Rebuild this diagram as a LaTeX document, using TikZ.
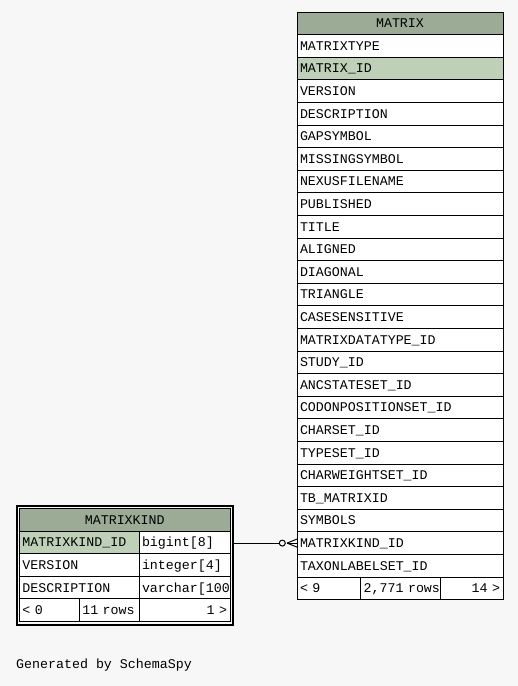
\documentclass[tikz,border=0pt]{standalone}
\usepackage{fontspec}
\setmonofont{Liberation Mono}
\usetikzlibrary{calc, positioning}
\definecolor{headgreen}{HTML}{9BAB96}
\definecolor{keygreen}{HTML}{BED1B8}
\definecolor{pagebg}{HTML}{F7F7F7}

\tikzset{
  dbfont/.style={font=\ttfamily\fontsize{13.3}{16}\selectfont},
  tcell/.style={draw=black, fill=white, line width=1pt, anchor=north west,
    inner xsep=3pt, inner ysep=0pt, outer sep=0pt, minimum height=22.6pt,
    text height=11.8pt, text depth=3pt, text width=#1, align=left, dbfont},
  thead/.style={tcell=#1, fill=headgreen, align=center},
  tfoot/.style={tcell=#1, align=right}
}

\begin{document}
\begin{tikzpicture}[x=1pt, y=-1pt]
\fill[pagebg] (0,0) rectangle (518,686);
\useasboundingbox (0,0) rectangle (518,686);

% MATRIX table
\node[thead=200pt] (mhead) at (297,12) {MATRIX};
\foreach \name [count=\i] in {MATRIXTYPE, MATRIX\_ID, VERSION, DESCRIPTION,
    GAPSYMBOL, MISSINGSYMBOL, NEXUSFILENAME, PUBLISHED, TITLE, ALIGNED,
    DIAGONAL, TRIANGLE, CASESENSITIVE, MATRIXDATATYPE\_ID, STUDY\_ID,
    ANCSTATESET\_ID, CODONPOSITIONSET\_ID, CHARSET\_ID, TYPESET\_ID,
    CHARWEIGHTSET\_ID, TB\_MATRIXID, SYMBOLS, MATRIXKIND\_ID, TAXONLABELSET\_ID} {
  \ifnum\i=2 \def\bg{keygreen}\else\def\bg{white}\fi
  \node[tcell=200pt, fill=\bg] (m\i) at (297, {34.6+(\i-1)*22.6}) {\name};
}
\node[tcell=57.7pt] (mprev) at (297,577) {\mbox{< 9}};
\node[tcell=74pt] (mrows) at (360.7,577) {\mbox{2,771 rows}};
\node[tfoot=56.3pt] (mnext) at (440.7,577) {\mbox{14 >}};

% MATRIXKIND table
\begin{scope}
\clip (19.5,508.5) rectangle (230,621.5);
\node[thead=204.5pt] (khead) at (19.5,508.5) {MATRIXKIND};
\node[tcell=113.5pt, fill=keygreen] (k1) at (19.5,531.1) {MATRIXKIND\_ID};
\node[tcell=85pt] (k1t) at (139,531.1) {bigint[8]};
\node[tcell=113.5pt] (k2) at (19.5,553.7) {VERSION};
\node[tcell=85pt] (k2t) at (139,553.7) {integer[4]};
\node[tcell=113.5pt] (k3) at (19.5,576.3) {DESCRIPTION};
\node[tcell=85pt] (k3t) at (139,576.3) {\mbox{varchar[100]}};
\node[tcell=53.8pt] (kprev) at (19.5,598.9) {\mbox{< 0}};
\node[tcell=53.7pt] (krows) at (79.3,598.9) {\mbox{11 rows}};
\node[tfoot=85pt] (knext) at (139,598.9) {\mbox{1 >}};
\end{scope}
\draw[line width=1pt] (19.5,508.5) rectangle (230,621.5);
\node[draw, line width=2pt, inner sep=0pt, outer sep=0pt, anchor=north west,
  minimum width=216pt, minimum height=119pt] (kind) at (16.5,505.5) {};

% relationship
\draw[line width=1pt] (kind.east |- m23.west) -- ($(m23.west)+(-17.7,0)$);
\draw[line width=1pt] ($(m23.west)+(-14.7,0)$) circle (3pt);
\draw[line width=1pt] ($(m23.west)+(-10,0)$) -- ($(m23.west)+(0,-4)$);
\draw[line width=1pt] ($(m23.west)+(-10,0)$) -- (m23.west);
\draw[line width=1pt] ($(m23.west)+(-10,0)$) -- ($(m23.west)+(0,4)$);

\node[dbfont, anchor=base west, inner sep=0pt] (credit) at (16,668) {Generated by SchemaSpy};
\end{tikzpicture}
\end{document}
